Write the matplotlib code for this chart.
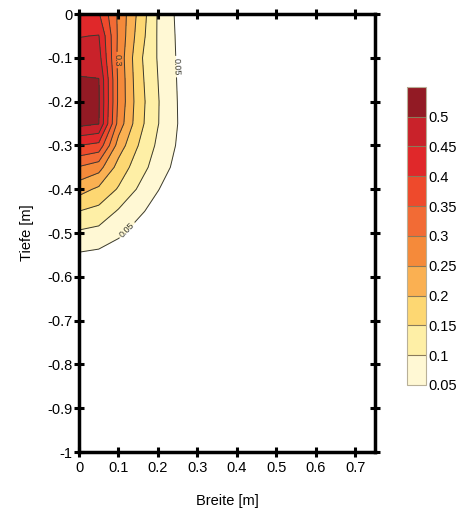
import numpy as np
import matplotlib
matplotlib.use("Agg")
import matplotlib.pyplot as plt

plt.rcParams['font.family'] = ['Liberation Sans', 'DejaVu Sans']
plt.rcParams['axes.unicode_minus'] = False

# grid (Breite [m], Tiefe [m])
breite = [0.0, 0.05, 0.10, 0.15, 0.20, 0.25, 0.30, 0.75]
tiefe = [0.0, -0.05, -0.10, -0.15, -0.20, -0.25, -0.30, -0.35,
         -0.40, -0.45, -0.50, -0.55, -0.60, -1.0]

# values per depth row (one entry per breite)
row_000 = [0.430, 0.405, 0.290, 0.190, 0.095, 0.040, 0.0, 0.0]
row_005 = [0.448, 0.452, 0.290, 0.180, 0.095, 0.043, 0.0, 0.0]
row_010 = [0.475, 0.470, 0.285, 0.165, 0.096, 0.045, 0.0, 0.0]
row_015 = [0.505, 0.502, 0.290, 0.170, 0.100, 0.047, 0.0, 0.0]
row_020 = [0.520, 0.505, 0.290, 0.175, 0.103, 0.049, 0.0, 0.0]
row_025 = [0.515, 0.502, 0.280, 0.170, 0.102, 0.050, 0.0, 0.0]
row_030 = [0.400, 0.385, 0.227, 0.150, 0.090, 0.045, 0.0, 0.0]
row_035 = [0.296, 0.270, 0.180, 0.125, 0.075, 0.035, 0.0, 0.0]
row_040 = [0.220, 0.190, 0.145, 0.095, 0.052, 0.020, 0.0, 0.0]
row_045 = [0.150, 0.135, 0.095, 0.060, 0.030, 0.010, 0.0, 0.0]
row_050 = [0.092, 0.083, 0.060, 0.030, 0.010, 0.0, 0.0, 0.0]
row_055 = [0.044, 0.038, 0.020, 0.005, 0.0, 0.0, 0.0, 0.0]
row_060 = [0.010, 0.005, 0.0, 0.0, 0.0, 0.0, 0.0, 0.0]
row_100 = [0.0, 0.0, 0.0, 0.0, 0.0, 0.0, 0.0, 0.0]

levels = [0.05, 0.10, 0.15, 0.20, 0.25, 0.30, 0.35, 0.40, 0.45, 0.50, 0.55]
labeled_levels = [0.05, 0.30]
cbar_ticks = [0.05, 0.10, 0.15, 0.20, 0.25, 0.30, 0.35, 0.40, 0.45, 0.50]
band_colors = ['#FFF8D4', '#FEEFA6', '#FDD772', '#FAB052', '#F58A3A',
               '#F26B35', '#EE4A2C', '#E0282A', '#C9222A', '#921A24']
x_ticks = [0, 0.1, 0.2, 0.3, 0.4, 0.5, 0.6, 0.7]
y_ticks = [0, -0.1, -0.2, -0.3, -0.4, -0.5, -0.6, -0.7, -0.8, -0.9, -1.0]

Z = np.array([row_000, row_005, row_010, row_015, row_020, row_025, row_030,
              row_035, row_040, row_045, row_050, row_055, row_060, row_100])
X, Y = np.meshgrid(breite, tiefe)

fig = plt.figure(figsize=(4.62, 5.14), dpi=100)
ax = fig.add_axes([0.171, 0.1206, 0.641, 0.852])
cf = ax.contourf(X, Y, Z, levels=levels, colors=band_colors)
plain_levels = [v for v in levels[:-1] if v not in labeled_levels]
ax.contour(X, Y, Z, levels=plain_levels, colors='#3a3a30', linewidths=0.7)
cs_lab = ax.contour(X, Y, Z, levels=labeled_levels, colors='#3a3a30',
                    linewidths=0.7)
ax.clabel(cs_lab, fmt=lambda v: f"{v:g}", fontsize=6.5,
          inline=True, inline_spacing=2,
          manual=[(0.094, -0.105), (0.245, -0.12), (0.13, -0.5)])

ax.set_xlim(0, 0.75)
ax.set_ylim(-1, 0)
ax.set_xticks(x_ticks)
ax.set_yticks(y_ticks)
ax.set_xticklabels([f"{v:g}" for v in x_ticks])
ax.set_yticklabels([f"{v:g}" for v in y_ticks])
ax.tick_params(direction='inout', length=7, width=2.2, labelsize=10.5,
               top=True, right=True, colors='black')
ax.tick_params(axis='x', pad=3)
ax.tick_params(axis='y', pad=1)
for s in ax.spines.values():
    s.set_linewidth(2.5)
ax.set_xlabel("Breite [m]", fontsize=10.5)
ax.set_ylabel("Tiefe [m]", fontsize=10.5)
ax.xaxis.set_label_coords(0.5, -0.095)
ax.yaxis.set_label_coords(-0.152, 0.5)

cax = fig.add_axes([0.881, 0.251, 0.041, 0.580])
cb = fig.colorbar(cf, cax=cax, ticks=cbar_ticks, drawedges=True)
cb.ax.set_yticklabels([f"{v:g}" for v in cbar_ticks])
cb.ax.tick_params(length=0, labelsize=10.5, pad=2)
cb.outline.set_edgecolor('#b8b098')
cb.outline.set_linewidth(0.8)
cb.dividers.set_color('#8a7a5a')
cb.dividers.set_linewidth(0.8)

fig.savefig("out.png", dpi=100)
